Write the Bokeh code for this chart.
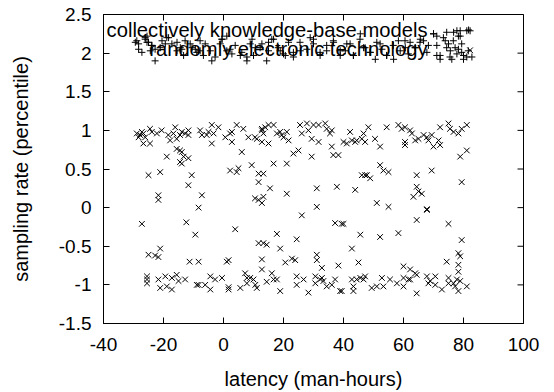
import math
from bokeh.plotting import figure
from bokeh.models import Range1d, FixedTicker, Label
from bokeh.embed import file_html
from bokeh.resources import INLINE

# ---------------- data ----------------
X_TICKS = [-40, -20, 0, 20, 40, 60, 80, 100]
X_TICK_LABELS = ["-40", "-20", "0", "20", "40", "60", "80", "100"]
Y_TICKS = [-1.5, -1, -0.5, 0, 0.5, 1, 1.5, 2, 2.5]
Y_TICK_LABELS = ["-1.5", "-1", "-0.5", "0", "0.5", "1", "1.5", "2", "2.5"]
X_LABEL = "latency (man-hours)"
Y_LABEL = "sampling rate (percentile)"
SERIES_NAMES = ["collectively knowledge-base models", "randomly electronic technology"]

# series 1: "+" markers
ckb_x = [-29.4, -28.3, -27.2, -26.1, -25.5, -24.4, -22.8, -23.9, -21.1, -19.4, -18.3, -15.5, -14.4, -13.3,
         -11.1, -9.4, -7.8, -6.7, -3.9, -1.1, -0.5, 1.1, 2.8, 5.6, 7.8, 8.9, 10.0, 12.2, 14.4, 15.0, 16.7,
         18.9, 20.6, 23.3, 25.6, 28.9, 30.0, 32.2, 34.4, 36.7, 38.9, 40.6, 42.2, 43.3, 45.6, 46.7, 48.9,
         50.6, 52.2, 54.4, 56.7, 58.3, 60.6, 62.2, 63.9, 65.6, 66.7, 68.3, 70.0, 71.1, 71.1, 72.2, 73.9,
         74.4, 75.0, 75.6, 76.1, 77.2, 77.8, 78.3, 78.9, 79.4, 80.0, 81.1, 81.7, 76.7,
         -28.9, -28.3, -26.1, -25.5, -25.0, -23.9, -22.8, -20.5, -18.9, -17.2, -15.5, -13.9, -12.8, -10.5,
         -8.9, -7.8, -6.1, -4.4, -2.8, -0.5, 1.1, 2.2, 3.9, 6.1, 7.8, 9.5, 10.6, 12.8, 15.0, 16.1, 18.3,
         20.0, 21.7, 23.3,
         25.5, 27.8, 30.0, 32.2, 34.4, 36.6, 38.9, 41.1, 43.3, 45.5, 47.2, 48.9, 51.1, 52.8, 54.4, 56.6,
         58.9, 60.5, 61.6, 63.9, 65.5, 67.8, 70.0, 71.1, 72.2, 73.3, 74.4, 75.5, 76.6, 77.8, 78.3, 79.4,
         80.0, 81.1, 81.6, 82.8, 78.9]
ckb_y = [2.14, 2.05, 2.01, 2.20, 2.14, 2.03, 1.90, 2.10, 2.07, 2.12, 2.20, 2.03, 2.07, 1.97,
         2.12, 2.05, 2.03, 1.97, 1.90, 2.12, 2.18, 2.03, 1.99, 1.97, 1.90, 2.12, 1.97, 2.07, 1.90, 2.14, 2.18,
         2.03, 1.97, 1.95, 2.03, 2.20, 2.12, 1.97, 2.03, 2.14, 1.97, 2.03, 2.12, 1.97, 2.25, 2.07, 2.01,
         1.92, 2.12, 1.97, 1.92, 2.16, 2.07, 2.14, 2.07, 2.18, 2.16, 2.10, 2.25, 2.22, 1.97, 1.92, 2.16,
         2.27, 2.12, 2.03, 1.92, 2.07, 1.99, 2.22, 2.29, 2.01, 1.92, 1.95, 2.30, 2.27,
         2.16, 2.12, 2.18, 2.22, 2.14, 2.10, 2.05, 2.16, 2.20, 2.12, 2.14, 2.05, 2.16, 2.07,
         2.01, 2.16, 2.12, 2.03, 1.95, 2.18, 2.22, 2.05, 2.10, 2.01, 1.95, 2.18, 2.07, 2.12, 2.03, 2.18, 2.07,
         1.99, 2.14, 2.01,
         2.14, 2.05, 2.18, 2.01, 2.10, 2.16, 2.03, 2.12, 1.97, 2.18, 2.07, 2.01, 2.14, 2.05, 1.97, 2.10,
         2.03, 2.16, 1.99, 2.07, 2.14, 2.01, 2.25, 2.10, 1.97, 2.20, 2.07, 1.95, 2.16, 2.29, 2.05, 2.12,
         1.97, 2.29, 2.03, 1.95, 2.22]

# series 2: "x" markers
ret_x = [-28.9, -27.8, -28.3, -26.7, -27.2, -26.1, -24.5, -23.9, -26.7, -24.5, -22.2, -20.6, -18.4, -17.8,
         -16.7, -16.1, -15.6, -14.5, -13.9, -12.8, -11.7, -11.7, -7.8, -7.2, -5.6, -5.0, -3.9, -3.9, -3.3,
         -1.7, 0.6, 2.2, 2.8, 2.8, 4.4, 6.6, 8.3, 10.5, 11.1, 12.8, 12.8, 13.3, 13.9, 15.0, 16.7, 12.8,
         15.0, 17.8, 18.9, 19.4, 21.1, 21.7, 20.0, 25.5, 26.1, 27.8, 28.3, 29.4, 30.0, 31.7, 31.7, 33.9,
         34.4, 35.5, 36.1, 36.1, 36.6, 38.3, 40.0, 41.1, 42.2, 42.8, 43.9, 44.4, 46.1, 47.2, 46.7, 48.3,
         50.5, 52.2, 54.4, 58.3, 59.4, 60.5, 62.2, 62.8, 63.9, 65.0, 66.7, 67.8, 68.3, 69.4, 70.0, 60.5,
         60.5, 72.2, 71.7, 72.2, 75.0, 75.5, 76.7, 78.3, 79.4, 81.1, 78.9, 81.1,
         -25.0, -21.1, -21.7, -21.7, -18.9, -15.6, -14.5, -13.9, -14.5, -13.9, -13.3, -11.7, -10.6, -11.7,
         -7.2, -8.3, 2.2, 4.4, 5.0, 6.1, 9.4, 11.7, 13.3, 11.7, 15.5, 10.5, 11.7, 12.8, 13.3, 16.7, 21.1,
         21.1, 23.3, 25.0, 29.4, 31.1, 31.1, 37.8, 43.9, 46.1, 47.2, 47.8, 48.9, 52.2, 53.3, 55.0, 51.1,
         55.0, 64.4, 64.4, 65.0, 63.3, 66.1, 69.4, 67.8, 79.4,
         -27.2, -25.0, -22.8, -21.7, -21.1, -25.5, -25.5, -25.5, -21.7, -21.1, -18.9, -19.4, -17.2, -17.2,
         -15.6, -15.0, -12.8, -12.4, -11.3, -9.4, -8.3, -8.9, -8.3, -6.1, -4.4, -4.4, -2.8, -0.5, 1.7, 1.7,
         1.1, 1.7, 3.9, 5.6, 7.2, 7.8, 7.8, 8.9, 10.0, 10.6, 11.1, 11.7, 13.3, 14.4, 12.8, 12.8, 14.4,
         16.1, 16.7, 17.8, 18.9, 17.8, 18.9, 20.6, 22.8, 23.9, 24.4, 24.4, 24.4, 26.7, 28.3, 26.1, 31.1,
         31.1, 32.8, 30.6, 30.6, 32.2, 33.3, 34.4, 36.1, 37.2, 38.9, 39.4, 32.8, 37.2, 39.4, 40.0, 38.3,
         42.8, 45.0, 45.6, 42.8, 43.3, 43.3, 44.4, 45.6, 46.7, 47.2, 49.4, 51.1, 52.8, 53.3, 55.5, 52.2,
         58.3, 57.8, 60.0, 60.0, 61.7, 62.2, 60.0, 62.2, 63.9, 64.4, 64.4, 64.4, 67.8, 67.8, 68.3, 68.9,
         70.6, 70.6, 72.8, 74.4, 75.0, 75.0, 76.7, 77.2, 77.8, 78.3, 78.9, 81.1, 75.0, 78.3, 78.9, 78.3,
         78.3, 79.4]
ret_y = [0.96, 0.94, 0.91, 0.96, 0.98, 0.91, 1.02, 0.98, 0.83, 0.83, 0.96, 1.00, 0.94, 0.87,
         0.96, 1.04, 0.89, 0.94, 0.98, 0.96, 0.94, 1.00, 1.00, 0.94, 0.94, 0.98, 1.07, 0.83, 0.96,
         1.04, 0.91, 0.96, 0.98, 0.85, 1.07, 1.02, 0.91, 0.91, 0.89, 1.00, 1.02, 0.96, 1.04, 1.07, 1.07, 0.85,
         0.83, 0.96, 0.98, 0.94, 0.98, 0.87, 0.91, 1.07, 0.96, 1.09, 1.00, 0.89, 1.07, 1.07, 0.85, 1.09,
         1.02, 0.96, 1.00, 0.79, 0.68, 0.68, 0.85, 0.83, 0.98, 0.87, 0.85, 0.87, 0.89, 0.85, 0.96, 1.04,
         0.89, 0.79, 1.04, 1.07, 1.02, 1.04, 1.00, 0.96, 0.87, 0.89, 0.94, 0.91, 0.87, 0.94, 0.79, 0.81,
         0.85, 1.04, 0.87, 0.81, 1.09, 1.02, 0.98, 0.96, 1.02, 1.07, 0.66, 0.74,
         0.42, 0.46, 0.16, 0.10, 0.66, 0.76, 0.74, 0.72, 0.59, 0.57, 0.66, 0.64, 0.42, 0.29,
         0.16, 0.00, 0.48, 0.46, 0.51, 0.72, 0.55, 0.44, 0.44, 0.33, 0.25, 0.12, 0.10, 0.06, 0.14, 0.57, 0.57,
         0.18, 0.70, 0.74, 0.66, 0.25, 0.01, 0.27, 0.23, 0.42, 0.42, 0.42, 0.38, 0.55, 0.48, 0.46, 0.06,
         0.01, 0.42, 0.27, 0.21, 0.14, 0.18, 0.48, -0.02, 0.33,
         -0.21, -0.61, -0.62, -0.64, -0.53, -0.89, -0.93, -0.98, -0.93, -1.04, -1.02, -0.89, -1.06, -0.91,
         -0.87, -0.95, -0.93, -0.19, -0.70, -0.35, -0.70, -1.00, -1.00, -1.00, -1.06, -0.89, -0.93, -0.91, -1.03, -1.06,
         -0.70, -0.68, -0.28, -1.04, -0.85, -0.91, -0.98, -0.91, -0.93, -1.00, -1.04, -0.46, -0.46, -0.48, -0.67, -0.80, -0.96,
         -0.85, -0.93, -0.93, -1.08, -0.34, -0.53, -0.71, -0.66, -0.68, -0.41, -0.89, -1.00, -0.93, -1.10, -0.10, -0.61,
         -0.68, -0.78, -0.89, -0.98, -0.93, -0.95, -1.02, -1.00, -0.93, -1.08, -1.08, -0.91, -0.20, -0.21, -0.21, -0.75,
         -0.53, -0.71, -0.35, -0.93, -1.02, -1.08, -0.93, -0.91, -0.93, -0.89, -1.04, -1.02, -0.91, -1.02, -0.93, -0.38,
         -0.33, -0.98, -1.02, -0.91, -0.93, -0.93, -0.76, -0.80, -0.85, -0.87, -1.11, -0.16, -0.03, -0.89, -0.98, -0.95,
         -0.89, -1.00, -1.06, -0.70, -0.91, -0.98, -0.98, -1.02, -0.93, -1.08, -0.95, -1.02, -0.21, -0.59, -0.63, -0.74,
         -0.83, -0.42]

# ---------------- style ----------------
FONT = "Liberation Sans"
TICK_FS = "19px"
LABEL_FS = "20px"
KEY_FS = "20.2px"
INK = "#000000"
X_MIN, X_MAX = -40, 100
Y_MIN, Y_MAX = -1.5, 2.5
PLUS_SIZE = 7
CROSS_SIZE = 8

# key layout (gnuplot style: text right-justified, sample on the right)
KEY_TEXT_RIGHT_PX = 324      # right end of key texts, px from frame left
KEY_ROWS_PX = [294, 274.5]   # key row centres, px from frame bottom
KEY_SAMPLE_X = 82.2
KEY_ROWS_Y = [2.289, 2.037]

p = figure(width=554, height=392, output_backend="svg", toolbar_location=None,
           x_range=Range1d(X_MIN, X_MAX), y_range=Range1d(Y_MIN, Y_MAX),
           min_border_left=103, min_border_right=31, min_border_top=14, min_border_bottom=68)
p.grid.visible = False
p.background_fill_color = "white"
p.border_fill_color = "white"
p.outline_line_color = INK
p.outline_line_width = 1

for ax, ticks, labels in ((p.xaxis[0], X_TICKS, X_TICK_LABELS), (p.yaxis[0], Y_TICKS, Y_TICK_LABELS)):
    ax.ticker = FixedTicker(ticks=ticks)
    ax.major_label_overrides = {t: l for t, l in zip(ticks, labels)}
    ax.major_tick_in = 6
    ax.major_tick_out = 0
    ax.minor_tick_line_color = None
    ax.axis_line_color = INK
    ax.major_tick_line_color = INK
    ax.major_label_text_font = FONT
    ax.major_label_text_font_size = TICK_FS
    ax.major_label_text_color = INK
    ax.axis_label_text_font = FONT
    ax.axis_label_text_font_size = LABEL_FS
    ax.axis_label_text_font_style = "normal"
    ax.axis_label_text_color = INK

p.xaxis[0].axis_label = X_LABEL
p.yaxis[0].axis_label = Y_LABEL
p.xaxis[0].major_label_standoff = 14
p.yaxis[0].major_label_standoff = 12
p.xaxis[0].axis_label_standoff = 14
p.yaxis[0].axis_label_standoff = 24

# mirrored inward ticks on top and right (half of each dash is clipped by the frame)
p.scatter(X_TICKS, [Y_MAX] * len(X_TICKS), marker="dash", angle=math.pi / 2, size=12,
          line_color=INK, line_width=1)
p.scatter([X_MAX] * len(Y_TICKS), Y_TICKS, marker="dash", size=12, line_color=INK, line_width=1)

p.scatter(ckb_x, ckb_y, marker="cross", size=PLUS_SIZE, line_color=INK, line_width=1)
p.scatter(ret_x, ret_y, marker="x", size=CROSS_SIZE, line_color=INK, line_width=1)

# key
p.scatter([KEY_SAMPLE_X], [KEY_ROWS_Y[0]], marker="cross", size=PLUS_SIZE, line_color=INK, line_width=1)
p.scatter([KEY_SAMPLE_X], [KEY_ROWS_Y[1]], marker="x", size=CROSS_SIZE, line_color=INK, line_width=1)
for name, yy in zip(SERIES_NAMES, KEY_ROWS_PX):
    p.add_layout(Label(x=KEY_TEXT_RIGHT_PX, y=yy, x_units="screen", y_units="screen", text=name,
                       text_align="right", text_baseline="middle",
                       text_font=FONT, text_font_size=KEY_FS, text_color=INK))

open("out.html", "w").write(file_html(p, INLINE))
